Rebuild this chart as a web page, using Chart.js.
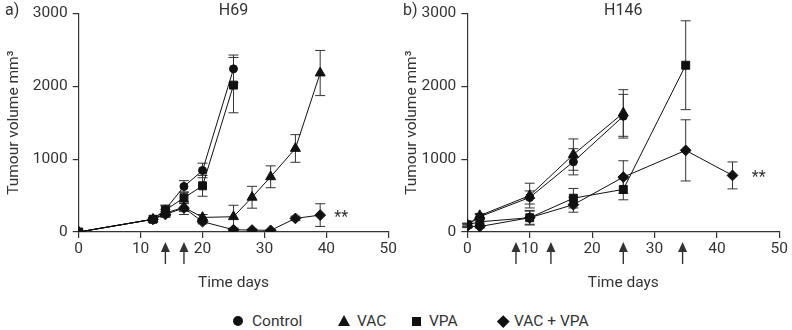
<!DOCTYPE html>
<html>
<head>
<meta charset="utf-8">
<script src="https://cdn.jsdelivr.net/npm/chart.js@4.4.1/dist/chart.umd.min.js"></script>
<style>
  html, body { margin: 0; padding: 0; background: #fff; }
  #wrap { position: relative; width: 792px; height: 330px; overflow: hidden; font-family: Roboto, sans-serif; color: #333; }
  #boxA { position: absolute; left: 0; top: 0; width: 400px; height: 300px; }
  #boxB { position: absolute; left: 400px; top: 0; width: 392px; height: 300px; }
  .lg { position: absolute; top: 311px; font-size: 15.5px; line-height: 20px; white-space: nowrap; }
  .mk { position: absolute; background: #111; }
</style>
</head>
<body>
<div id="wrap">
  <div id="boxA"><canvas id="chartA"></canvas></div>
  <div id="boxB"><canvas id="chartB"></canvas></div>

  <div class="mk" style="left:233px;top:316px;width:10px;height:10px;border-radius:50%;"></div>
  <span class="lg" style="left:252px;">Control</span>
  <div class="mk" style="left:338px;top:315px;width:0;height:0;background:none;border-left:6.5px solid transparent;border-right:6.5px solid transparent;border-bottom:11px solid #111;"></div>
  <span class="lg" style="left:357px;">VAC</span>
  <div class="mk" style="left:412px;top:317px;width:9px;height:9px;"></div>
  <span class="lg" style="left:429px;">VPA</span>
  <div class="mk" style="left:499px;top:317px;width:8.5px;height:8.5px;transform:rotate(45deg);"></div>
  <span class="lg" style="left:514px;">VAC + VPA</span>
</div>

<script>
(function() {
  'use strict';

  var INK  = '#111111';
  var AXIS = '#333333';
  var FONT = 'Roboto, sans-serif';

  // ---- H69 (panel a) ----
  var h69CtrlDays = [0, 12, 14, 17, 20, 25];
  var h69CtrlVals = [0, 175, 310, 625, 845, 2240];
  var h69CtrlSem  = [0, 20, 60, 80, 100, 190];

  var h69VacDays = [0, 12, 14, 17, 20, 25, 28, 31, 35, 39];
  var h69VacVals = [0, 175, 260, 340, 200, 210, 477, 758, 1147, 2183];
  var h69VacSem  = [0, 20, 50, 60, 40, 157, 150, 150, 190, 310];

  var h69VpaDays = [0, 12, 14, 17, 20, 25];
  var h69VpaVals = [0, 175, 300, 470, 634, 2017];
  var h69VpaSem  = [0, 20, 60, 80, 143, 380];

  var h69ComboDays = [0, 12, 14, 17, 20, 25, 28, 31, 35, 39];
  var h69ComboVals = [0, 174, 241, 330, 142, 31, 27, 22, 187, 232];
  var h69ComboSem  = [0, 20, 40, 90, 30, 10, 10, 10, 30, 156];

  var h69Arrows = [14, 17];
  var h69Stars  = [42.4, 232];

  // ---- H146 (panel b) ----
  var h146CtrlDays = [0, 2, 10, 17, 25];
  var h146CtrlVals = [90, 210, 474, 964, 1590];
  var h146CtrlSem  = [20, 30, 90, 180, 300];

  var h146VacDays = [0, 2, 10, 17, 25];
  var h146VacVals = [100, 225, 500, 1063, 1634];
  var h146VacSem  = [20, 30, 170, 215, 320];

  var h146VpaDays = [0, 2, 10, 17, 25, 35];
  var h146VpaVals = [100, 140, 196, 464, 585, 2290];
  var h146VpaSem  = [20, 30, 100, 134, 143, 610];

  var h146ComboDays = [0, 2, 10, 17, 25, 35, 42.5];
  var h146ComboVals = [80, 75, 196, 375, 754, 1121, 777];
  var h146ComboSem  = [20, 20, 90, 103, 224, 420, 185];

  var h146Arrows = [7.8, 13.4, 25, 34.5];
  var h146Stars  = [46.7, 777];

  var xTicks = [0, 10, 20, 30, 40, 50];
  var yTicks = [0, 1000, 2000, 3000];

  Chart.defaults.font.family = FONT;
  Chart.defaults.font.size = 15;
  Chart.defaults.color = AXIS;

  function pts(days, vals) {
    return days.map(function(d, i) { return { x: d, y: vals[i] }; });
  }

  function series(label, days, vals, sem, style, radius) {
    return {
      label: label,
      data: pts(days, vals),
      sem: sem,
      borderColor: INK,
      borderWidth: 1,
      backgroundColor: INK,
      pointBackgroundColor: INK,
      pointBorderColor: INK,
      pointBorderWidth: 1,
      pointStyle: style,
      pointRadius: radius,
      tension: 0,
      fill: false
    };
  }

  // error bars, treatment arrows, titles and the ** marks
  var extras = {
    id: 'extras',
    beforeDatasetsDraw: function(chart) {
      var ctx = chart.ctx;
      var xs = chart.scales.x, ys = chart.scales.y;
      ctx.save();
      ctx.strokeStyle = AXIS;
      ctx.lineWidth = 1;
      chart.data.datasets.forEach(function(ds) {
        ds.data.forEach(function(p, i) {
          var s = ds.sem[i];
          if (!s) return;
          var px = xs.getPixelForValue(p.x);
          var top = ys.getPixelForValue(p.y + s);
          var bot = ys.getPixelForValue(Math.max(0, p.y - s));
          ctx.beginPath();
          ctx.moveTo(px, top); ctx.lineTo(px, bot);
          ctx.moveTo(px - 5, top); ctx.lineTo(px + 5, top);
          ctx.moveTo(px - 5, bot); ctx.lineTo(px + 5, bot);
          ctx.stroke();
        });
      });
      ctx.restore();
    },
    afterDraw: function(chart) {
      var o = chart.options.plugins.extras;
      var ctx = chart.ctx;
      var xs = chart.scales.x, ys = chart.scales.y;
      var area = chart.chartArea;
      ctx.save();
      ctx.fillStyle = AXIS;
      ctx.strokeStyle = AXIS;
      ctx.lineWidth = 1.4;
      o.arrows.forEach(function(d) {
        var px = xs.getPixelForValue(d);
        var y0 = area.bottom + 10, y1 = area.bottom + 32;
        ctx.beginPath();
        ctx.moveTo(px, y0 + 6); ctx.lineTo(px, y1);
        ctx.stroke();
        ctx.beginPath();
        ctx.moveTo(px, y0);
        ctx.lineTo(px - 4.5, y0 + 10);
        ctx.lineTo(px + 4.5, y0 + 10);
        ctx.closePath();
        ctx.fill();
      });
      ctx.font = '16px ' + FONT;
      ctx.textBaseline = 'middle';
      ctx.textAlign = 'center';
      ctx.fillText(o.title, (area.left + area.right) / 2, 11);
      ctx.fillText('**', xs.getPixelForValue(o.stars[0]), ys.getPixelForValue(o.stars[1]) + 3);
      ctx.textAlign = 'left';
      ctx.fillText(o.panel, o.panelX, 11);
      ctx.restore();
    }
  };

  function makeChart(id, datasets, opts) {
    return new Chart(document.getElementById(id), {
      type: 'line',
      data: { datasets: datasets },
      plugins: [extras],
      options: {
        responsive: true,
        maintainAspectRatio: false,
        animation: false,
        layout: { padding: { top: 8, right: opts.padRight, bottom: 0, left: 0 } },
        plugins: {
          legend: { display: false },
          tooltip: { enabled: false },
          extras: opts
        },
        scales: {
          x: {
            type: 'linear',
            min: 0, max: 50,
            afterBuildTicks: function(s) { s.ticks = xTicks.map(function(v) { return { value: v }; }); },
            ticks: { color: AXIS, padding: 3, font: { size: 15.5, lineHeight: 1.1 }, callback: function(v) { return String(v); } },
            grid: { display: true, drawOnChartArea: false, drawTicks: true, tickLength: 6, color: AXIS, lineWidth: 1.2 },
            border: { display: true, color: AXIS, width: 1.2 },
            title: { display: true, text: 'Time days', color: AXIS, font: { size: 15.5 }, padding: { top: 0, bottom: 8 } },
            afterFit: function(s) { s.height = 68; }
          },
          y: {
            min: 0, max: 3000,
            afterBuildTicks: function(s) { s.ticks = yTicks.map(function(v) { return { value: v }; }); },
            ticks: { color: AXIS, padding: 5, font: { size: 15.5, lineHeight: 1.1 }, callback: function(v) { return String(v); } },
            grid: { display: true, drawOnChartArea: false, drawTicks: true, tickLength: 6, color: AXIS, lineWidth: 1.2 },
            border: { display: true, color: AXIS, width: 1.2 },
            title: { display: true, text: 'Tumour volume mm\u00b3', color: AXIS, font: { size: 15.5 }, padding: { top: opts.titlePad, bottom: 0 } },
            afterFit: function(s) { s.width = opts.yWidth; }
          }
        }
      }
    });
  }

  makeChart('chartA', [
    series('Control', h69CtrlDays, h69CtrlVals, h69CtrlSem, 'circle', 4),
    series('VAC', h69VacDays, h69VacVals, h69VacSem, 'triangle', 5.8),
    series('VPA', h69VpaDays, h69VpaVals, h69VpaSem, 'rect', 5.6),
    series('VAC + VPA', h69ComboDays, h69ComboVals, h69ComboSem, 'rectRot', 5.4)
  ], { title: 'H69', panel: 'a)', panelX: 5, arrows: h69Arrows, stars: h69Stars, yWidth: 78.7, padRight: 9.3, titlePad: 5 });

  makeChart('chartB', [
    series('Control', h146CtrlDays, h146CtrlVals, h146CtrlSem, 'circle', 4),
    series('VAC', h146VacDays, h146VacVals, h146VacSem, 'triangle', 5.8),
    series('VPA', h146VpaDays, h146VpaVals, h146VpaSem, 'rect', 5.6),
    series('VAC + VPA', h146ComboDays, h146ComboVals, h146ComboSem, 'rectRot', 5.4)
  ], { title: 'H146', panel: 'b)', panelX: 3, arrows: h146Arrows, stars: h146Stars, yWidth: 67.3, padRight: 12.7, titlePad: 2.5 });
})();
</script>
</body>
</html>
